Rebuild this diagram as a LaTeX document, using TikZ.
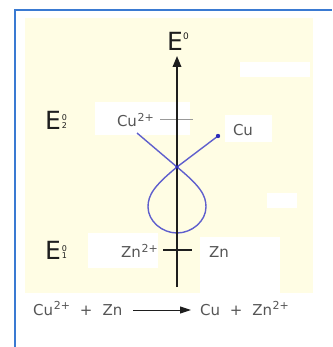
\documentclass[tikz,border=0pt]{standalone}
\usepackage{fontspec}
\setmainfont{DejaVu Sans}
\usetikzlibrary{arrows.meta}
\definecolor{cream}{RGB}{255,253,228}
\definecolor{bordblue}{RGB}{58,122,210}
\definecolor{curveblue}{RGB}{95,95,205}
\definecolor{dotblue}{RGB}{45,45,185}
\definecolor{txtgray}{RGB}{85,85,85}
\definecolor{dark}{RGB}{30,30,30}
\newcommand{\sups}[1]{\kern0.6pt\raisebox{5.5pt}{\fontsize{11}{11}\selectfont #1}}
\newcommand{\stk}[2]{\kern0.8pt\raisebox{1pt}{\fontsize{8}{8}\selectfont\renewcommand{\arraystretch}{0.75}\begin{tabular}[b]{@{}c@{}}#1\\#2\end{tabular}}}
\tikzset{
  patch/.style={fill=white},
  bigE/.style={inner sep=0pt, text=dark, font=\fontsize{25}{25}\selectfont},
  lbl/.style={inner sep=0pt, text=txtgray, font=\fontsize{15}{15}\selectfont},
  axisline/.style={line width=1.8pt, draw=dark, -{Triangle[length=11pt,width=8.5pt]}},
  cutick/.style={line width=1pt, draw=gray!80},
  zntick/.style={line width=1.4pt, draw=dark},
  curve/.style={line width=1.4pt, draw=curveblue},
  rxn/.style={line width=1pt, draw=dark, -{Triangle[length=11pt,width=7pt]}}
}
\begin{document}
\begin{tikzpicture}[x=1pt,y=-1pt]
\useasboundingbox (0,0) rectangle (332,347);
\fill[white] (0,0) rectangle (332,347);
\fill[cream] (25,18) rectangle (313,293);
% white patches of the scan
\fill[patch] (95,102) rectangle (190,135);
\fill[patch] (225,115) rectangle (272,142);
\fill[patch] (240,62) rectangle (310,77);
\fill[patch] (267,193) rectangle (297,208);
\fill[patch] (88,233) rectangle (158,268);
\fill[patch] (200,237) rectangle (280,293);
% frame
\draw[bordblue, line width=2pt] (15,347) -- (15,10) -- (332,10);

% axis
\coordinate (axB) at (177,287);
\coordinate (axT) at (177,56);
\node[bigE] (E0) at (178,41) {E\raisebox{11pt}{\fontsize{9}{9}\selectfont 0}};
\node[bigE] (E2) at (56,121) {E\stk{0}{2}};
\node[bigE] (E1) at (56,251) {E\stk{0}{1}};

% ticks
\coordinate (cuL) at (160,120);
\coordinate (cuR) at (193,120);
\coordinate (znL) at (163,250);
\coordinate (znR) at (192,250);
\draw[cutick] (cuL) -- (cuR);

% curve
\coordinate (S) at (137,133);
\coordinate (X) at (177,167);
\coordinate (T) at (218,136);
\draw[curve] (S) -- (X) .. controls (200,186) and (206,195) .. (206,207)
  .. controls (206,221) and (192,233) .. (177,233)
  .. controls (162,233) and (148,221) .. (148,207)
  .. controls (148,195) and (154,186) .. (X) -- (T);

\draw[axisline] (axB) -- (axT);
\draw[zntick] (znL) -- (znR);
\fill[dotblue] (X) circle (1.8);
\fill[dotblue] (T) circle (2.2);

% labels
\node[lbl, anchor=east] (cu2) at (154,120) {Cu\sups{2+}};
\node[lbl] (cu) at (243,130) {Cu};
\node[lbl, anchor=east] (zn2) at (158,251) {Zn\sups{2+}};
\node[lbl] (zn) at (219,252) {Zn};

% reaction
\node[lbl, anchor=base west] (lhs) at (33,315) {Cu\sups{2+}\hspace{10pt}+\hspace{10pt}Zn};
\node[lbl, anchor=base west] (rhs) at (200,315) {Cu\hspace{5pt} +\hspace{5pt} Zn\sups{2+}};
\coordinate (rA) at (133,310);
\coordinate (rB) at (191,310);
\draw[rxn] (rA) -- (rB);
\end{tikzpicture}
\end{document}
